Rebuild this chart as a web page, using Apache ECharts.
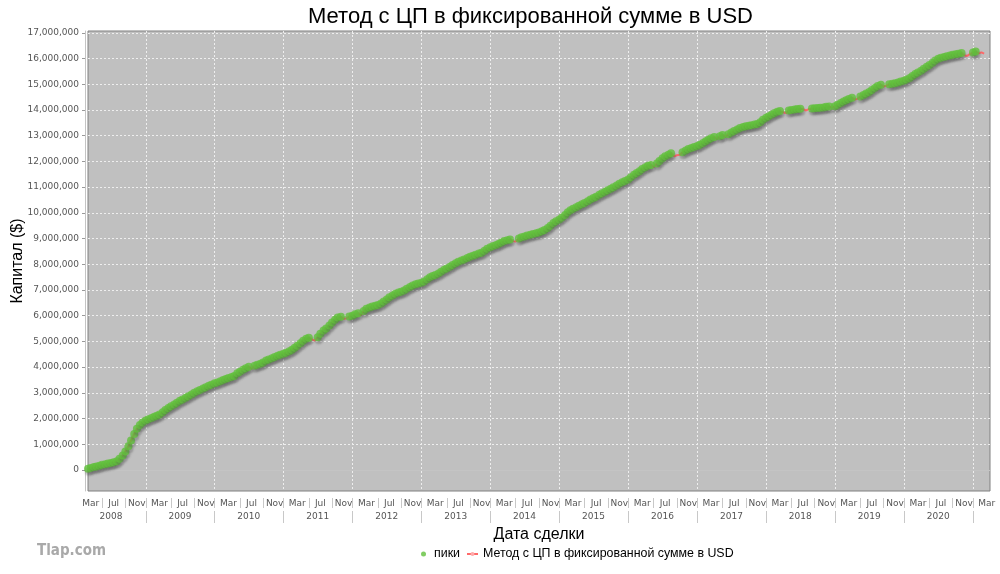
<!DOCTYPE html>
<html>
<head>
<meta charset="utf-8">
<title>Метод с ЦП в фиксированной сумме в USD</title>
<script src="https://cdn.jsdelivr.net/npm/echarts@6/dist/echarts.min.js"></script>
<style>
  html, body { margin: 0; padding: 0; background: #fff; }
  #chart { width: 1000px; height: 574px; }
</style>
</head>
<body>
<div id="chart"></div>
<script>
// капитал в млн $, точки на 1-е и 15-е число каждого месяца
var cap2008 = [ // с 1 марта
  0.05, 0.08, 0.12, 0.14, 0.17, 0.20, 0.22, 0.25, 0.27, 0.30,
  0.34, 0.44, 0.56, 0.72, 0.92, 1.15, 1.40, 1.60, 1.75, 1.85];
var cap2009 = [
  1.93, 1.97, 2.02, 2.07, 2.11, 2.16, 2.25, 2.33, 2.41, 2.48, 2.55, 2.62,
  2.69, 2.74, 2.81, 2.87, 2.94, 3.00, 3.06, 3.11, 3.17, 3.22, 3.28, 3.32];
var cap2010 = [
  3.37, 3.40, 3.45, 3.50, 3.54, 3.58, 3.62, 3.66, 3.76, 3.82, 3.90, 3.96,
  4.02, 3.95, 4.05, 4.09, 4.13, 4.18, 4.26, 4.30, 4.35, 4.39, 4.44, 4.48];
var cap2011 = [
  4.52, 4.56, 4.62, 4.68, 4.75, 4.83, 4.93, 5.03, 5.10, 5.14, 5.08, 5.03,
  5.16, 5.30, 5.42, 5.50, 5.62, 5.74, 5.84, 5.93, 5.96, 5.88, 5.90, 5.97];
var cap2012 = [
  6.00, 6.06, 6.10, 6.02, 6.18, 6.27, 6.32, 6.36, 6.39, 6.42, 6.47, 6.55,
  6.63, 6.72, 6.79, 6.85, 6.90, 6.93, 6.98, 7.05, 7.12, 7.17, 7.22, 7.25];
var cap2013 = [
  7.28, 7.33, 7.42, 7.50, 7.54, 7.58, 7.64, 7.71, 7.79, 7.84, 7.90, 7.97,
  8.04, 8.10, 8.15, 8.19, 8.24, 8.29, 8.33, 8.37, 8.42, 8.45, 8.53, 8.60];
var cap2014 = [
  8.66, 8.71, 8.75, 8.80, 8.85, 8.90, 8.93, 8.96, 8.90, 8.88, 9.00, 9.05,
  9.08, 9.12, 9.15, 9.18, 9.21, 9.24, 9.28, 9.33, 9.41, 9.50, 9.60, 9.67];
var cap2015 = [
  9.74, 9.82, 9.92, 10.02, 10.10, 10.16, 10.22, 10.28, 10.33, 10.38, 10.45, 10.52,
  10.58, 10.63, 10.70, 10.76, 10.82, 10.88, 10.94, 10.99, 11.06, 11.13, 11.19, 11.24];
var cap2016 = [
  11.30, 11.38, 11.48, 11.55, 11.62, 11.70, 11.77, 11.83, 11.86, 11.78, 11.92, 12.02,
  12.12, 12.20, 12.26, 12.32, 12.20, 12.24, 12.26, 12.36, 12.42, 12.48, 12.52, 12.56];
var cap2017 = [
  12.60, 12.65, 12.72, 12.78, 12.84, 12.90, 12.95, 12.88, 12.98, 13.03, 12.97, 13.06,
  13.12, 13.18, 13.24, 13.30, 13.34, 13.37, 13.39, 13.41, 13.43, 13.45, 13.52, 13.62];
var cap2018 = [
  13.70, 13.76, 13.82, 13.88, 13.93, 13.96, 13.91, 13.88, 13.98, 14.00, 14.02, 14.04,
  14.05, 14.03, 13.98, 14.03, 14.06, 14.07, 14.08, 14.09, 14.10, 14.12, 14.13, 14.10];
var cap2019 = [
  14.14, 14.20, 14.27, 14.33, 14.38, 14.43, 14.47, 14.40, 14.44, 14.52, 14.58, 14.64,
  14.70, 14.78, 14.86, 14.93, 14.98, 14.91, 14.95, 15.00, 15.02, 15.04, 15.07, 15.11];
var cap2020 = [
  15.14, 15.18, 15.24, 15.32, 15.40, 15.46, 15.52, 15.60, 15.68, 15.75, 15.84, 15.92,
  15.99, 16.03, 16.06, 16.09, 16.12, 16.15, 16.17, 16.19, 16.21, 16.13, 16.10, 16.17];
var cap2021 = [ // по 1 марта
  16.23, 16.27, 16.20, 16.24, 16.19];

var monthNames = ["Jan", "Feb", "Mar", "Apr", "May", "Jun", "Jul", "Aug", "Sep", "Oct", "Nov", "Dec"];
var labelMonths = [2, 6, 10]; // Mar, Jul, Nov
var years = [2008, 2009, 2010, 2011, 2012, 2013, 2014, 2015, 2016, 2017, 2018, 2019, 2020, 2021];
var yTicks = [0, 1, 2, 3, 4, 5, 6, 7, 8, 9, 10, 11, 12, 13, 14, 15, 16, 17]; // млн

// год, массив, первый месяц
var capTable = [
  [2008, cap2008, 2], [2009, cap2009, 0], [2010, cap2010, 0], [2011, cap2011, 0],
  [2012, cap2012, 0], [2013, cap2013, 0], [2014, cap2014, 0], [2015, cap2015, 0],
  [2016, cap2016, 0], [2017, cap2017, 0], [2018, cap2018, 0], [2019, cap2019, 0],
  [2020, cap2020, 0], [2021, cap2021, 0]
];

var M = 1000000;
var lineData = [];
var peakData = [];
var best = -Infinity;
capTable.forEach(function (row) {
  var arr = row[1];
  for (var i = 0; i < arr.length; i++) {
    var t = Date.UTC(row[0], row[2] + Math.floor(i / 2), i % 2 ? 15 : 1);
    var v = arr[i] * M;
    lineData.push([t, v]);
    if (v >= best) {
      best = v;
      peakData.push([t, v]);
    }
  }
});

var xMin = Date.UTC(2008, 2, 1);
var xMax = Date.UTC(2021, 3, 1);

var monthLabelVals = [];
var monthSepVals = [];
var yearStartVals = [];
var yearLabelVals = [];
years.forEach(function (y) {
  labelMonths.forEach(function (m) {
    var t = Date.UTC(y, m, 15);
    if (t > xMin && t < xMax) monthLabelVals.push(t);
  });
  [0, 4, 8].forEach(function (m) {
    var t = Date.UTC(y, m, m === 0 ? 1 : 15);
    if (t > xMin && t < xMax) monthSepVals.push(t);
  });
  if (y > 2008) yearStartVals.push(Date.UTC(y, 0, 1));
  if (y < 2021) yearLabelVals.push(Date.UTC(y, 6, 1));
});

var yVals = yTicks.map(function (v) { return v * M; });

function fmtNum(v) {
  return String(v).replace(/\B(?=(\d{3})+(?!\d))/g, ",");
}

var myChart = echarts.init(document.getElementById("chart"));

var option = {
  animation: false,
  backgroundColor: "#ffffff",
  title: {
    text: "Метод с ЦП в фиксированной сумме в USD",
    left: 303,
    top: 1,
    textStyle: { fontFamily: "Liberation Sans", fontSize: 22, fontWeight: "normal", color: "#000" }
  },
  legend: {
    left: 421,
    top: 548,
    padding: 0,
    itemWidth: 11,
    itemHeight: 5,
    itemGap: 6,
    textStyle: { fontFamily: "Liberation Sans", fontSize: 12.4, color: "#000" },
    data: [
      { name: "пики", icon: "circle" },
      { name: "Метод с ЦП в фиксированной сумме в USD" }
    ]
  },
  graphic: [{
    type: "text",
    left: 37,
    top: 544,
    style: {
      text: "Tlap.com",
      fill: "#a9a9a9",
      font: "bold 15px 'DejaVu Sans Condensed'"
    }
  }],
  grid: {
    left: 88, right: 10, top: 31, bottom: 83,
    outerBoundsMode: "none",
    containLabel: false,
    show: true,
    backgroundColor: "#c0c0c0",
    borderColor: "#808080",
    borderWidth: 1
  },
  xAxis: [
    {
      type: "value",
      min: xMin, max: xMax,
      position: "bottom",
      offset: 2,
      name: "Дата сделки",
      nameLocation: "middle",
      nameGap: 34,
      nameMoveOverlap: false,
      nameTextStyle: { fontFamily: "Liberation Sans", fontSize: 16, color: "#000" },
      axisLine: { show: true, lineStyle: { color: "#c4c4c4", width: 1 } },
      axisTick: { show: false, customValues: yearStartVals },
      splitLine: { show: true, lineStyle: { color: "#eeeeee", type: [2, 2], width: 1 } },
      axisLabel: {
        customValues: monthLabelVals,
        hideOverlap: false,
        margin: 6,
        fontFamily: "DejaVu Sans",
        fontSize: 9,
        color: "#555",
        formatter: function (v) { return monthNames[new Date(v).getUTCMonth()]; }
      }
    },
    {
      type: "value",
      min: xMin, max: xMax,
      position: "bottom",
      offset: 7,
      axisLine: { show: false },
      axisTick: { show: true, customValues: monthSepVals, length: 10, lineStyle: { color: "#c8c8c8" } },
      axisLabel: { show: false },
      splitLine: { show: false }
    },
    {
      type: "value",
      min: xMin, max: xMax,
      position: "bottom",
      offset: 20,
      axisLine: { show: false },
      axisTick: { show: true, customValues: yearStartVals, length: 12, lineStyle: { color: "#c8c8c8" } },
      splitLine: { show: false },
      axisLabel: {
        customValues: yearLabelVals,
        hideOverlap: false,
        margin: 1,
        fontFamily: "DejaVu Sans",
        fontSize: 9,
        color: "#555",
        formatter: function (v) { return String(new Date(v).getUTCFullYear()); }
      }
    }
  ],
  yAxis: {
    type: "value",
    min: -816000,
    max: 17070000,
    offset: 3,
    name: "Капитал ($)",
    nameLocation: "middle",
    nameGap: 59,
    nameMoveOverlap: false,
    nameTextStyle: { fontFamily: "Liberation Sans", fontSize: 16, color: "#000" },
    axisLine: { show: true, lineStyle: { color: "#c4c4c4" } },
    axisTick: { show: true, customValues: yVals, length: 3, lineStyle: { color: "#999" } },
    splitLine: { show: true, lineStyle: { color: "#eeeeee", type: [2, 2], width: 1 } },
    axisLabel: {
      customValues: yVals,
      margin: 6,
      fontFamily: "DejaVu Sans",
      fontSize: 9,
      color: "#555",
      formatter: function (v) { return fmtNum(v); }
    }
  },
  series: [
    {
      name: "Метод с ЦП в фиксированной сумме в USD",
      type: "line",
      data: lineData,
      symbol: "none",
      z: 2,
      lineStyle: { color: "#ff6a6a", width: 2 },
      itemStyle: { color: "#ffaaaa" }
    },
    {
      name: "пики",
      type: "scatter",
      data: peakData,
      symbolSize: 8,
      z: 3,
      itemStyle: {
        color: "#62c03c",
        shadowColor: "rgba(70,70,70,0.4)",
        shadowBlur: 2,
        shadowOffsetX: 1,
        shadowOffsetY: 3
      }
    }
  ]
};

myChart.setOption(option);
</script>
</body>
</html>
